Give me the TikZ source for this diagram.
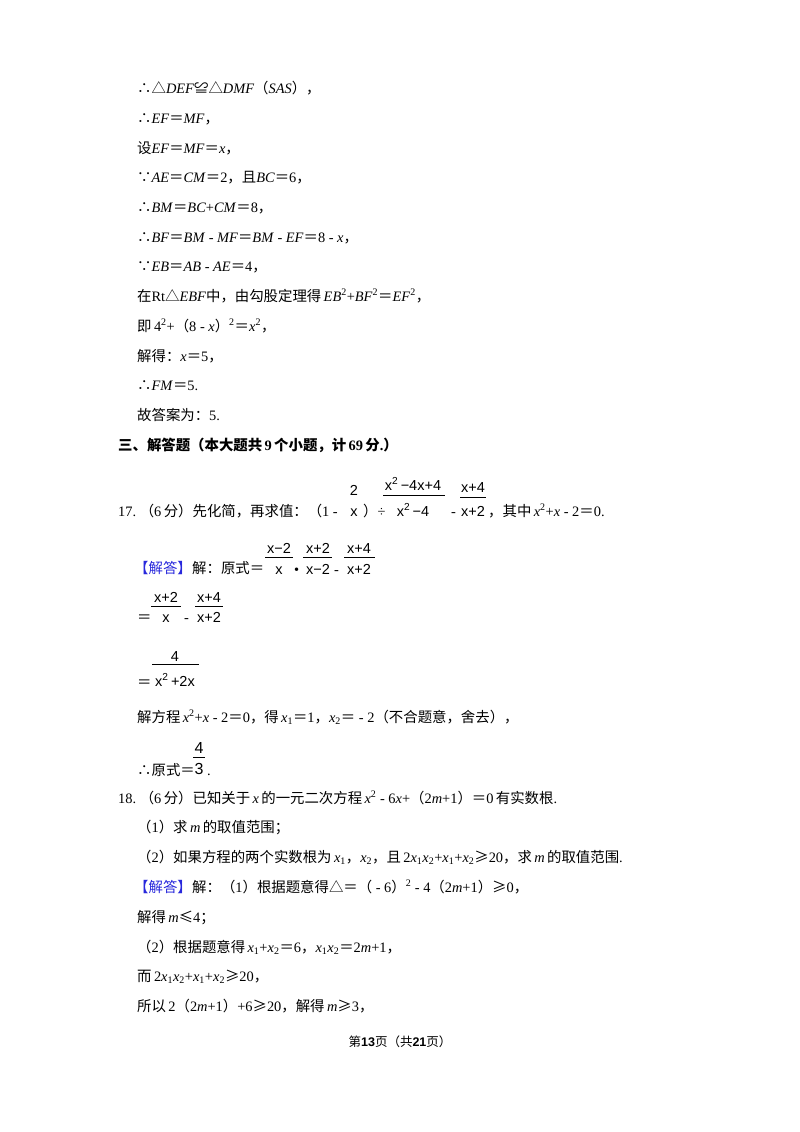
\documentclass[tikz,border=0pt]{standalone}
\usepackage{fontspec}
\setmainfont{Liberation Serif}
\newfontfamily\cjkf{Noto Sans CJK SC}
\newfontfamily\arf{Liberation Sans}
\newcommand\cj[1]{{\cjkf #1}}
\newcommand\I[1]{\textit{#1}}
\newcommand\Sp[1]{\textsuperscript{#1}}
\newcommand\Sb[1]{\textsubscript{#1}}
\definecolor{ans}{RGB}{40,40,220}
\begin{document}
\begin{tikzpicture}[x=1pt,y=-1pt,
  ln/.style={anchor=base west,inner sep=0pt,font=\fontsize{14.4}{16}\selectfont},
  fr/.style={anchor=base,inner sep=0pt,font=\arf\fontsize{14.5}{15}\selectfont}]
\useasboundingbox[fill=white] (0,0) rectangle (800,1132);
\node[ln] (l1) at (137,93) {\cj{∴△}\I{DEF}\cj{≌△}\I{DMF}\cj{（}\I{SAS}\cj{），}};
\node[ln] (l2) at (137,123) {\cj{∴}\I{EF}\cj{＝}\I{MF}\cj{，}};
\node[ln] (l3) at (137,153) {\cj{设}\I{EF}\cj{＝}\I{MF}\cj{＝}\I{x}\cj{，}};
\node[ln] (l4) at (137,182) {\cj{∵}\I{AE}\cj{＝}\I{CM}\cj{＝}2\cj{，且}\I{BC}\cj{＝}6\cj{，}};
\node[ln] (l5) at (137,212) {\cj{∴}\I{BM}\cj{＝}\I{BC}+\I{CM}\cj{＝}8\cj{，}};
\node[ln] (l6) at (137,242) {\cj{∴}\I{BF}\cj{＝}\I{BM} - \I{MF}\cj{＝}\I{BM} - \I{EF}\cj{＝}8 - \I{x}\cj{，}};
\node[ln] (l7) at (137,271) {\cj{∵}\I{EB}\cj{＝}\I{AB} - \I{AE}\cj{＝}4\cj{，}};
\node[ln] (l8) at (137,301) {\cj{在}Rt\cj{△}\I{EBF}\cj{中，由勾股定理得}\,\I{EB}\Sp{2}+\I{BF}\Sp{2}\cj{＝}\I{EF}\Sp{2}\cj{，}};
\node[ln] (l9) at (137,331) {\cj{即}\,4\Sp{2}+\cj{（}8 - \I{x}\cj{）}\Sp{2}\cj{＝}\I{x}\Sp{2}\cj{，}};
\node[ln] (l10) at (137,361) {\cj{解得：}\I{x}\cj{＝}5\cj{，}};
\node[ln] (l11) at (137,390) {\cj{∴}\I{FM}\cj{＝}5.};
\node[ln] (l12) at (137,420) {\cj{故答案为：}5.};
\node[ln,font=\fontsize{14.4}{16}\selectfont\bfseries] (h3) at (118,450) {\cj{三、解答题（本大题共}\,9\,\cj{个小题，计}\,69\,\cj{分}.\cj{）}};
% 17
\node[ln] (q17) at (118,516) {17.\ \cj{（}6\,\cj{分）先化简，再求值：（}1 -};
\node[fr] (a1) at (354,495) {2};
\node[fr] (a2) at (354,516) {x};
\node[ln] (a3) at (363,516) {\cj{）}÷};
\node[fr] (b1) at (413,490) {x\Sp{2}\,−4x+4};
\draw[line width=0.6pt] (383,495) -- (445,495);
\node[fr] (b2) at (413,516) {x\Sp{2}\,−4};
\node[ln] (b3) at (451,516) {-};
\node[fr] (c1) at (473,492) {x+4};
\draw[line width=0.6pt] (460,497) -- (486,497);
\node[fr] (c2) at (473,516) {x+2};
\node[ln] (c3) at (488,516) {\cj{，其中}\,\I{x}\Sp{2}+\I{x} - 2\cj{＝}0.};
% answer
\node[ln,text=ans] (ans1) at (134,573) {\cj{【解答】}};
\node[ln] (ans2) at (192,573) {\cj{解：原式＝}};
\node[fr] (d1) at (279,553) {x−2};
\draw[line width=0.6pt] (265,557) -- (293,557);
\node[fr] (d2) at (279,574) {x};
\node[ln] (d3) at (294,574) {•};
\node[fr] (e1) at (318,553) {x+2};
\draw[line width=0.6pt] (303,557) -- (332,557);
\node[fr] (e2) at (318,574) {x−2};
\node[ln] (e3) at (334,574) {-};
\node[fr] (f1) at (359,553) {x+4};
\draw[line width=0.6pt] (344,557) -- (375,557);
\node[fr] (f2) at (359,574) {x+2};
\node[ln] (g0) at (137,622) {\cj{＝}};
\node[fr] (g1) at (166,602) {x+2};
\draw[line width=0.6pt] (151,606) -- (181,606);
\node[fr] (g2) at (166,622) {x};
\node[ln] (g3) at (184,622) {-};
\node[fr] (h1) at (209,602) {x+4};
\draw[line width=0.6pt] (195,606) -- (223,606);
\node[fr] (h2) at (209,622) {x+2};
\node[ln] (i0) at (137,687) {\cj{＝}};
\node[fr] (i1) at (175,661) {4};
\draw[line width=0.6pt] (152,664) -- (199,664);
\node[fr] (i2) at (175,686) {x\Sp{2}\,+2x};
\node[ln] (j1) at (137,722) {\cj{解方程}\,\I{x}\Sp{2}+\I{x} - 2\cj{＝}0\cj{，得}\,\I{x}\Sb{1}\cj{＝}1\cj{，}\I{x}\Sb{2}\cj{＝} - 2\cj{（不合题意，舍去），}};
\node[ln] (k0) at (137,775) {\cj{∴原式＝}};
\node[fr,font=\arf\fontsize{16}{16}\selectfont] (k1) at (199,753) {4};
\draw[line width=1pt] (193,757) -- (205,757);
\node[fr,font=\arf\fontsize{16}{16}\selectfont] (k2) at (199,774) {3};
\node[ln] (k3) at (207,775) {.};
% 18
\node[ln] (q18) at (118,803) {18.\ \cj{（}6\,\cj{分）已知关于}\,\I{x}\,\cj{的一元二次方程}\,\I{x}\Sp{2} - 6\I{x}+\cj{（}2\I{m}+1\cj{）＝}0\,\cj{有实数根}.};
\node[ln] (m1) at (137,832) {\cj{（}1\cj{）求}\,\I{m}\,\cj{的取值范围；}};
\node[ln] (m2) at (137,862) {\cj{（}2\cj{）如果方程的两个实数根为}\,\I{x}\Sb{1}\cj{，}\I{x}\Sb{2}\cj{，且}\,2\I{x}\Sb{1}\I{x}\Sb{2}+\I{x}\Sb{1}+\I{x}\Sb{2}\cj{≥}20\cj{，求}\,\I{m}\,\cj{的取值范围}.};
\node[ln,text=ans] (n0) at (134,892) {\cj{【解答】}};
\node[ln] (n1) at (192,892) {\cj{解：（}1\cj{）根据题意得△＝（} - 6\cj{）}\Sp{2} - 4\cj{（}2\I{m}+1\cj{）≥}0\cj{，}};
\node[ln] (n2) at (137,922) {\cj{解得}\,\I{m}\cj{≤}4\cj{；}};
\node[ln] (n3) at (137,952) {\cj{（}2\cj{）根据题意得}\,\I{x}\Sb{1}+\I{x}\Sb{2}\cj{＝}6\cj{，}\I{x}\Sb{1}\I{x}\Sb{2}\cj{＝}2\I{m}+1\cj{，}};
\node[ln] (n4) at (137,981) {\cj{而}\,2\I{x}\Sb{1}\I{x}\Sb{2}+\I{x}\Sb{1}+\I{x}\Sb{2}\cj{≥}20\cj{，}};
\node[ln] (n5) at (137,1011) {\cj{所以}\,2\cj{（}2\I{m}+1\cj{）}+6\cj{≥}20\cj{，解得}\,\I{m}\cj{≥}3\cj{，}};
\node[anchor=base,inner sep=0pt,font=\fontsize{12.5}{14}\selectfont] (ft) at (400,1046) {\cj{第}\textbf{\arf 13}\cj{页（共}\textbf{\arf 21}\cj{页）}};
\end{tikzpicture}
\end{document}
